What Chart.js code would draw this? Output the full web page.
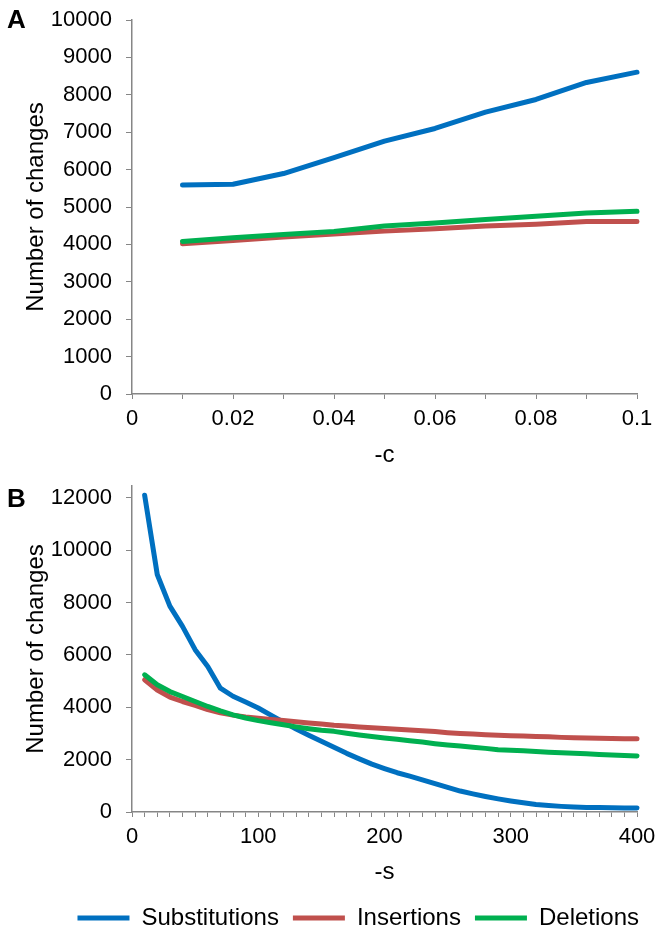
<!DOCTYPE html>
<html>
<head>
<meta charset="utf-8">
<title>Number of changes vs -c and -s</title>
<script src="https://cdn.jsdelivr.net/npm/chart.js@4.4.1/dist/chart.umd.min.js"></script>
<style>
  html, body { margin:0; padding:0; background:#fff; overflow:hidden; }
  #wrap { position:relative; width:661px; height:934px; overflow:hidden; }
  .panel { position:absolute; left:0; width:661px; height:470px; }
  .tag { position:absolute; left:7px; font:bold 26px "Liberation Sans", Arial, sans-serif; line-height:26px; color:#000; }
</style>
</head>
<body>
<div id="wrap">
  <div class="panel" style="top:0"><canvas id="chartA" width="661" height="470"></canvas></div>
  <div class="panel" style="top:470px"><canvas id="chartB" width="661" height="470"></canvas></div>
  <div class="tag" style="top:6px">A</div>
  <div class="tag" style="top:485px">B</div>
</div>
<script>
// series
const seriesNames = ['Substitutions', 'Insertions', 'Deletions'];
const seriesColors = ['#0070C0', '#C0504D', '#00B050'];

// panel A: -c
const cValues = [0.01, 0.02, 0.03, 0.04, 0.05, 0.06, 0.07, 0.08, 0.09, 0.1];
const subsA = [5585, 5610, 5895, 6320, 6760, 7100, 7535, 7875, 8330, 8605];
const insA  = [4015, 4105, 4195, 4280, 4355, 4420, 4490, 4540, 4610, 4612];
const delA  = [4080, 4180, 4265, 4345, 4490, 4570, 4665, 4750, 4840, 4885];
const xTicksA = [0, 0.01, 0.02, 0.03, 0.04, 0.05, 0.06, 0.07, 0.08, 0.09, 0.1];
const yTicksA = [0, 1000, 2000, 3000, 4000, 5000, 6000, 7000, 8000, 9000, 10000];

// panel B: -s
const sValues = [10, 20, 30, 40, 50, 60, 70, 80, 90, 100,
                 110, 120, 130, 140, 150, 160, 170, 180, 190, 200,
                 210, 220, 230, 240, 250, 260, 270, 280, 290, 300,
                 310, 320, 330, 340, 350, 360, 370, 380, 390, 400];
const subsB = [12100, 9070, 7860, 7090, 6200, 5560, 4730, 4420, 4200, 3970,
               3700, 3430, 3170, 2930, 2700, 2470, 2240, 2030, 1830, 1660,
               1500, 1370, 1230, 1080, 940, 800, 690, 590, 500, 420,
               350, 290, 250, 215, 190, 175, 168, 162, 157, 153];
const insB  = [5050, 4660, 4390, 4220, 4070, 3910, 3790, 3700, 3630, 3580,
               3530, 3490, 3450, 3400, 3360, 3310, 3280, 3250, 3220, 3190,
               3160, 3130, 3100, 3070, 3030, 3000, 2980, 2950, 2930, 2910,
               2900, 2880, 2870, 2850, 2840, 2830, 2820, 2810, 2800, 2800];
const delB  = [5240, 4860, 4600, 4410, 4220, 4030, 3860, 3710, 3590, 3490,
               3410, 3330, 3250, 3180, 3120, 3080, 3010, 2940, 2880, 2830,
               2780, 2720, 2670, 2610, 2560, 2520, 2470, 2430, 2380, 2360,
               2340, 2310, 2280, 2260, 2240, 2220, 2200, 2180, 2160, 2140];
const xTicksB = [0, 10, 20, 30, 40, 50, 60, 70, 80, 90, 100,
                 110, 120, 130, 140, 150, 160, 170, 180, 190, 200,
                 210, 220, 230, 240, 250, 260, 270, 280, 290, 300,
                 310, 320, 330, 340, 350, 360, 370, 380, 390, 400];
const yTicksB = [0, 2000, 4000, 6000, 8000, 10000, 12000];

Chart.defaults.font.family = '"Liberation Sans", Arial, sans-serif';
Chart.defaults.color = '#000';

const AXIS_GREY = '#868686';
const Y_AXIS_WIDTH = 132;
const RIGHT_GAP = 24;

function makeDatasets(xs, cols){
  return cols.map((ys, i) => ({
    label: seriesNames[i],
    data: xs.map((x, j) => ({ x, y: ys[j] })),
    borderColor: seriesColors[i],
    backgroundColor: seriesColors[i],
    borderWidth: 5,
    borderCapStyle: 'round',
    borderJoinStyle: 'round',
    pointRadius: 0,
    tension: 0,
    clip: false,
    order: cols.length - i   // last series painted on top, like the original
  }));
}

function xScale(opts){
  return {
    type: 'linear',
    min: opts.min, max: opts.max,
    afterBuildTicks: s => { s.ticks = opts.ticks.map(v => ({ value: v })); },
    afterFit: s => { s.height = opts.height; s.paddingRight = RIGHT_GAP; },
    border: { color: AXIS_GREY, width: 1.5 },
    grid: { drawOnChartArea: false, drawTicks: true, tickLength: 5, color: AXIS_GREY },
    ticks: { autoSkip: false, maxRotation: 0, padding: 7, font: { size: 22 }, callback: opts.label },
    title: { display: true, text: opts.title, font: { size: 24 }, padding: { top: 0, bottom: opts.titlePad } }
  };
}

function yScale(opts){
  return {
    min: 0, max: opts.max,
    afterBuildTicks: s => { s.ticks = opts.ticks.map(v => ({ value: v })); },
    // fixed width and top gap so the plot area lands where the original's does
    afterFit: s => { s.width = Y_AXIS_WIDTH; s.paddingTop = opts.top; s.paddingBottom = 0; },
    border: { color: AXIS_GREY, width: 1.5 },
    grid: { drawOnChartArea: false, drawTicks: true, tickLength: 6, color: AXIS_GREY },
    ticks: { padding: 14, font: { size: 22 }, callback: v => String(v) },
    title: { display: true, text: 'Number of changes', font: { size: 24 }, padding: { top: 22, bottom: 0 } }
  };
}

new Chart($('chartA'), {
  type: 'line',
  data: { datasets: makeDatasets(cValues, [subsA, insA, delA]) },
  options: {
    responsive: false, animation: false, events: [],
    layout: { padding: { top: 20, right: 0, bottom: 0, left: 0 } },
    plugins: { legend: { display: false }, tooltip: { enabled: false } },
    scales: {
      x: xScale({
        min: 0, max: 0.1, ticks: xTicksA, height: 76, title: '-c', titlePad: 0,
        label: v => (Math.round(v * 100) % 2 === 0 ? String(+v.toFixed(2)) : '')
      }),
      y: yScale({ max: 10000, ticks: yTicksA, top: 20 })
    }
  }
});

new Chart($('chartB'), {
  type: 'line',
  data: { datasets: makeDatasets(sValues, [subsB, insB, delB]) },
  options: {
    responsive: false, animation: false, events: [],
    layout: { padding: { top: 16, right: 8, bottom: 0, left: 0 } },
    plugins: {
      tooltip: { enabled: false },
      legend: {
        position: 'bottom', align: 'end', fullSize: true,
        labels: {
          usePointStyle: true, pointStyle: 'line', pointStyleWidth: 52,
          boxHeight: 5, padding: 14, color: '#000', font: { size: 24 },
          sort: (a, b) => a.datasetIndex - b.datasetIndex
        }
      }
    },
    scales: {
      x: xScale({
        min: 0, max: 400, ticks: xTicksB, height: 80, title: '-s', titlePad: 5,
        label: v => (v % 100 === 0 ? String(v) : '')
      }),
      y: yScale({ max: 12450, ticks: yTicksB, top: 16 })
    }
  }
});

function $(id){ return document.getElementById(id); }
</script>
</body>
</html>
